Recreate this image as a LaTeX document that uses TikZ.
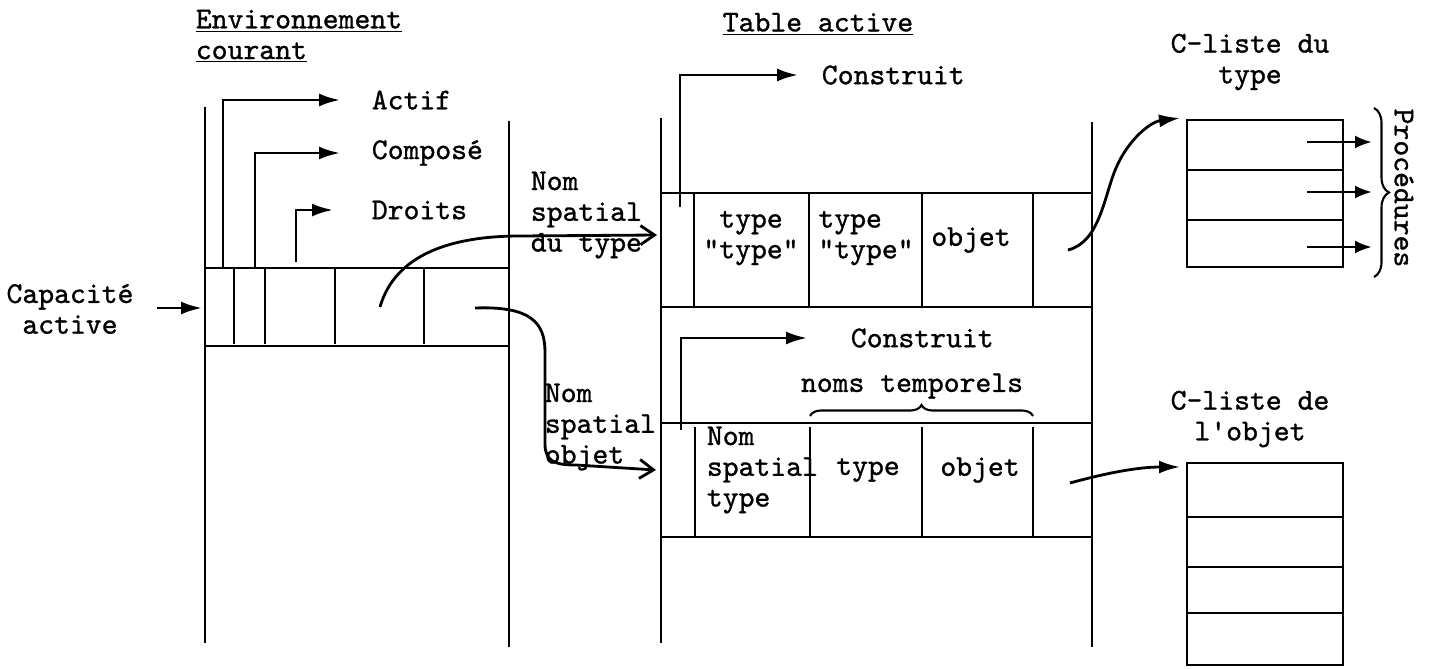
\documentclass[tikz,border=0pt]{standalone}
\usepackage{fontspec}
\setmonofont{lmmono10-regular.otf}[FakeBold=1]
\usepackage{tikz}
\usetikzlibrary{arrows.meta,decorations.pathreplacing}

\begin{document}
\begin{tikzpicture}[x=0.02cm,y=-0.02cm,>={Latex[length=4.2mm,width=2.6mm]},
  wall/.style={line width=1.6pt},
  ptr/.style={line width=1.6pt,->},
  barb/.style={line width=1.6pt,-{Straight Barb[length=2.8mm,width=3.8mm]}},
  every node/.style={inner sep=2pt,font=\fontsize{17.2}{17.5}\selectfont\ttfamily}]
  \useasboundingbox (0,0) rectangle (1433,669);

  % titres
  \node[anchor=north west,align=left] (envt) at (192,6) {\underline{Environnement}\\\underline{courant}};
  \node (tabt) at (818,24) {\underline{Table active}};
  \node[align=center] (clt) at (1250,62) {C-liste du\\type};
  \node[align=center] (clo) at (1250,419) {C-liste de\\l'objet};

  % environnement courant
  \draw[wall] (205,107) -- (205,643);
  \draw[wall] (509,121) -- (509,647);
  \draw[wall] (205,268) -- (509,268);
  \draw[wall] (205,346) -- (509,346);
  \foreach \x in {234,265,335,424}
    \draw[wall] (\x,268) -- (\x,344);

  \node[anchor=west] (actif) at (368,100) {Actif};
  \node[anchor=west] (compo) at (368,153) {Composé};
  \node[anchor=west] (droits) at (368,210) {Droits};
  \coordinate (c1) at (223,268);
  \coordinate (c2) at (255,268);
  \coordinate (c3) at (296,262);
  \draw[ptr,shorten >=0.56cm] (c1) |- (actif);
  \draw[ptr,shorten >=0.56cm] (c2) |- (compo);
  \draw[ptr,shorten >=0.7cm] (c3) |- (droits);

  \node[align=center] (capa) at (70,309) {Capacité\\active};
  \coordinate (capin) at (202,308);
  \draw[ptr,shorten <=0.4cm] (capa.east |- capin) -- (capin);

  % table active
  \draw[wall] (661,118) -- (661,643);
  \draw[wall] (1092,122) -- (1092,647);
  \draw[wall] (661,193) -- (1092,193);
  \draw[wall] (661,307) -- (1092,307);
  \foreach \x in {694,809,922,1033}
    \draw[wall] (\x,193) -- (\x,307);
  \draw[wall] (661,423) -- (1092,423);
  \draw[wall] (661,537) -- (1092,537);
  \foreach \x in {695,810,922,1033}
    \draw[wall] (\x,427) -- (\x,537);

  \node[anchor=west] (cons1) at (818,75) {Construit};
  \node[anchor=west] (cons2) at (847,338) {Construit};
  \coordinate (k1) at (680,207);
  \coordinate (k2) at (681,430);
  \draw[ptr,shorten >=0.4cm] (k1) |- (cons1);
  \draw[ptr,shorten >=0.8cm] (k2) |- (cons2);

  \node[align=center] (tt1) at (751,238) {type\\"type"};
  \node[align=left] (tt2) at (866,238) {type\\"type"};
  \node (ob1) at (971,240) {objet};
  \node[align=left,anchor=west] (nst) at (703,470) {Nom\\spatial\\type};
  \node (ty2) at (868,470) {type};
  \node (ob2) at (980,470) {objet};
  \draw[line width=1.2pt,decorate,decoration={brace,amplitude=0.22cm}]
    (810,416) -- (1033,416);
  \node (tempo) at (912,386) {noms temporels};

  % noms spatiaux
  \node[align=left,anchor=west] (nsty) at (527,215) {Nom\\spatial\\du type};
  \node[align=left,anchor=west] (nsob) at (541,427) {Nom\\spatial\\objet};
  \coordinate (s1) at (380,307);
  \coordinate (e1) at (657,235);
  \coordinate (s2) at (475,308);
  \coordinate (e2) at (656,470);
  \draw[barb] (s1) .. controls (395,255) and (450,236) .. (520,236) -- (e1);
  \draw[barb] (s2) .. controls (530,306) and (545,322) .. (545,352)
    -- (545,444) .. controls (545,462) and (556,465) .. (576,465) -- (e2);

  % c-listes
  \draw[wall] (1187,120) rectangle (1343,267);
  \draw[wall] (1187,170) -- (1343,170);
  \draw[wall] (1187,220) -- (1343,220);
  \foreach \y in {142,192,247}
    \draw[ptr,>={Latex[length=3.4mm,width=2.6mm]}] (1307,\y) -- (1372,\y);
  \draw[line width=1.2pt,decorate,decoration={brace,amplitude=0.3cm}]
    (1374,108) -- (1374,277);
  \node[rotate=-90] (proc) at (1404,188) {Procédures};

  \draw[wall] (1187,463) rectangle (1343,665);
  \foreach \y in {517,567,613}
    \draw[wall] (1187,\y) -- (1343,\y);

  \coordinate (o1) at (1068,250);
  \coordinate (t1) at (1180,118);
  \coordinate (o2) at (1070,483);
  \coordinate (t2) at (1180,467);
  \draw[ptr] (o1) .. controls (1100,242) and (1104,196) .. (1116,168)
    .. controls (1128,140) and (1150,122) .. (t1);
  \draw[ptr] (o2) .. controls (1110,472) and (1140,467) .. (t2);
\end{tikzpicture}
\end{document}
